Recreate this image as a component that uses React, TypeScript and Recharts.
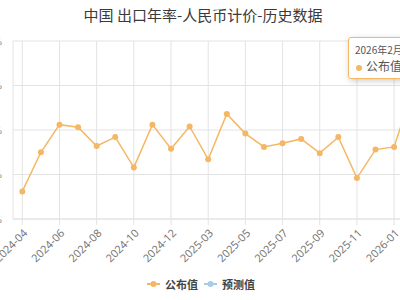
import React from "react"
import { LineChart, Line, XAxis, YAxis, CartesianGrid, Tooltip } from "recharts"

const months = [
  "2024-04", "2024-05", "2024-06", "2024-07", "2024-08", "2024-09", "2024-10", "2024-11",
  "2024-12", "2025-02", "2025-03", "2025-04", "2025-05", "2025-06", "2025-07", "2025-08",
  "2025-09", "2025-10", "2025-11", "2025-12", "2026-01", "2026-02",
]
const published = [
  3.1, 7.5, 10.6, 10.3, 8.2, 9.2, 5.8, 10.6, 7.9, 10.4, 6.7,
  11.8, 9.6, 8.1, 8.5, 9.0, 7.4, 9.2, 4.6, 7.8, 8.1, 14.5,
]
const forecast: (number | null)[] = months.map(() => null)
const xTicks = [
  "2024-04", "2024-06", "2024-08", "2024-10", "2024-12", "2025-03",
  "2025-05", "2025-07", "2025-09", "2025-11", "2026-01",
]
const yTicks = [0, 5, 10, 15, 20]

const data = months.map((m, i) => ({ month: m, published: published[i], forecast: forecast[i] }))

const ORANGE = "#f5b764"
const BLUE = "#a9cbe9"
const GRID = "#e3e3e3"

function XTick({ x, y, payload }: any) {
  return (
    <g transform={`translate(${x + 3},${y + 4}) rotate(-45)`}>
      <text textAnchor="end" dy={4} fontSize={11} fill="#777" fontFamily="'Noto Sans', sans-serif">
        {payload.value}
      </text>
    </g>
  )
}

function TipBox() {
  return (
    <div
      style={{
        background: "rgba(255,255,255,0.95)",
        border: `1px solid ${ORANGE}`,
        borderRadius: 3,
        boxShadow: "1px 2px 6px rgba(0,0,0,0.2)",
        padding: "4px 6px",
        fontFamily: "'Noto Sans CJK SC', sans-serif",
        color: "#555",
        whiteSpace: "nowrap",
      }}
    >
      <div style={{ fontSize: 10, lineHeight: "15px" }}>2026年2月</div>
      <div style={{ fontSize: 12, lineHeight: "17px" }}>
        <span style={{ display: "inline-block", width: 6, height: 6, borderRadius: 3, background: ORANGE, marginRight: 4, marginLeft: 1 }} />
        公布值: 14.50%
      </div>
    </div>
  )
}

function LegendRow() {
  const item = (color: string, label: string) => (
    <span style={{ display: "inline-flex", alignItems: "center", margin: "0 3px" }}>
      <svg width={13} height={8} style={{ marginRight: 5 }}>
        <line x1={0} y1={4} x2={13} y2={4} stroke={color} strokeWidth={2} />
        <circle cx={6.5} cy={4} r={3} fill={color} />
      </svg>
      <span>{label}</span>
    </span>
  )
  return (
    <div
      style={{
        textAlign: "center",
        fontFamily: "'Noto Sans CJK SC', sans-serif",
        fontSize: 11,
        fontWeight: 700,
        color: "#444",
      }}
    >
      {item(ORANGE, "公布值")}
      {item(BLUE, "预测值")}
    </div>
  )
}

export default function App() {
  return (
    <div style={{ position: "fixed", left: 0, top: 0, width: 400, height: 300, overflow: "hidden", background: "#fff" }}>
      <div
        style={{
          position: "absolute",
          left: -37,
          top: 4,
          width: 480,
          textAlign: "center",
          fontFamily: "'Noto Sans CJK SC', sans-serif",
          fontSize: 15,
          color: "#3a3a3a",
        }}
      >
        中国 出口年率-人民币计价-历史数据
      </div>
      <div style={{ position: "absolute", left: -37, top: 0 }}>
        <LineChart width={480} height={300} data={data} margin={{ top: 41, right: 21, left: 0, bottom: 51 }}>
          <CartesianGrid stroke={GRID} strokeWidth={1} />
          <XAxis
            dataKey="month"
            ticks={xTicks}
            interval={0}
            height={30}
            padding={{ left: 9.3, right: 9.3 }}
            axisLine={{ stroke: GRID }}
            tickLine={{ stroke: GRID }}
            tickSize={6}
            tick={<XTick />}
          />
          <YAxis
            width={50}
            domain={[0, 20]}
            ticks={yTicks}
            axisLine={false}
            tickLine={false}
            tickSize={0}
            tickMargin={11}
            tickFormatter={(v) => `${v.toFixed(2)}%`}
            tick={{ fontSize: 11, fill: "#888" }}
          />
          <Tooltip
            active
            defaultIndex={21}
            cursor={false}
            position={{ x: 385, y: 37 }}
            isAnimationActive={false}
            content={() => <TipBox />}
          />
          <Line
            type="linear"
            dataKey="published"
            name="公布值"
            stroke={ORANGE}
            strokeWidth={1.5}
            dot={{ r: 3, fill: ORANGE, stroke: ORANGE, strokeWidth: 0 }}
            activeDot={false}
            isAnimationActive={false}
          />
          <Line
            type="linear"
            dataKey="forecast"
            name="预测值"
            stroke={BLUE}
            strokeWidth={1.5}
            dot={{ r: 3, fill: BLUE, strokeWidth: 0 }}
            isAnimationActive={false}
          />
        </LineChart>
      </div>
      <div style={{ position: "absolute", left: -39, top: 275, width: 480 }}>
        <LegendRow />
      </div>
    </div>
  )
}
